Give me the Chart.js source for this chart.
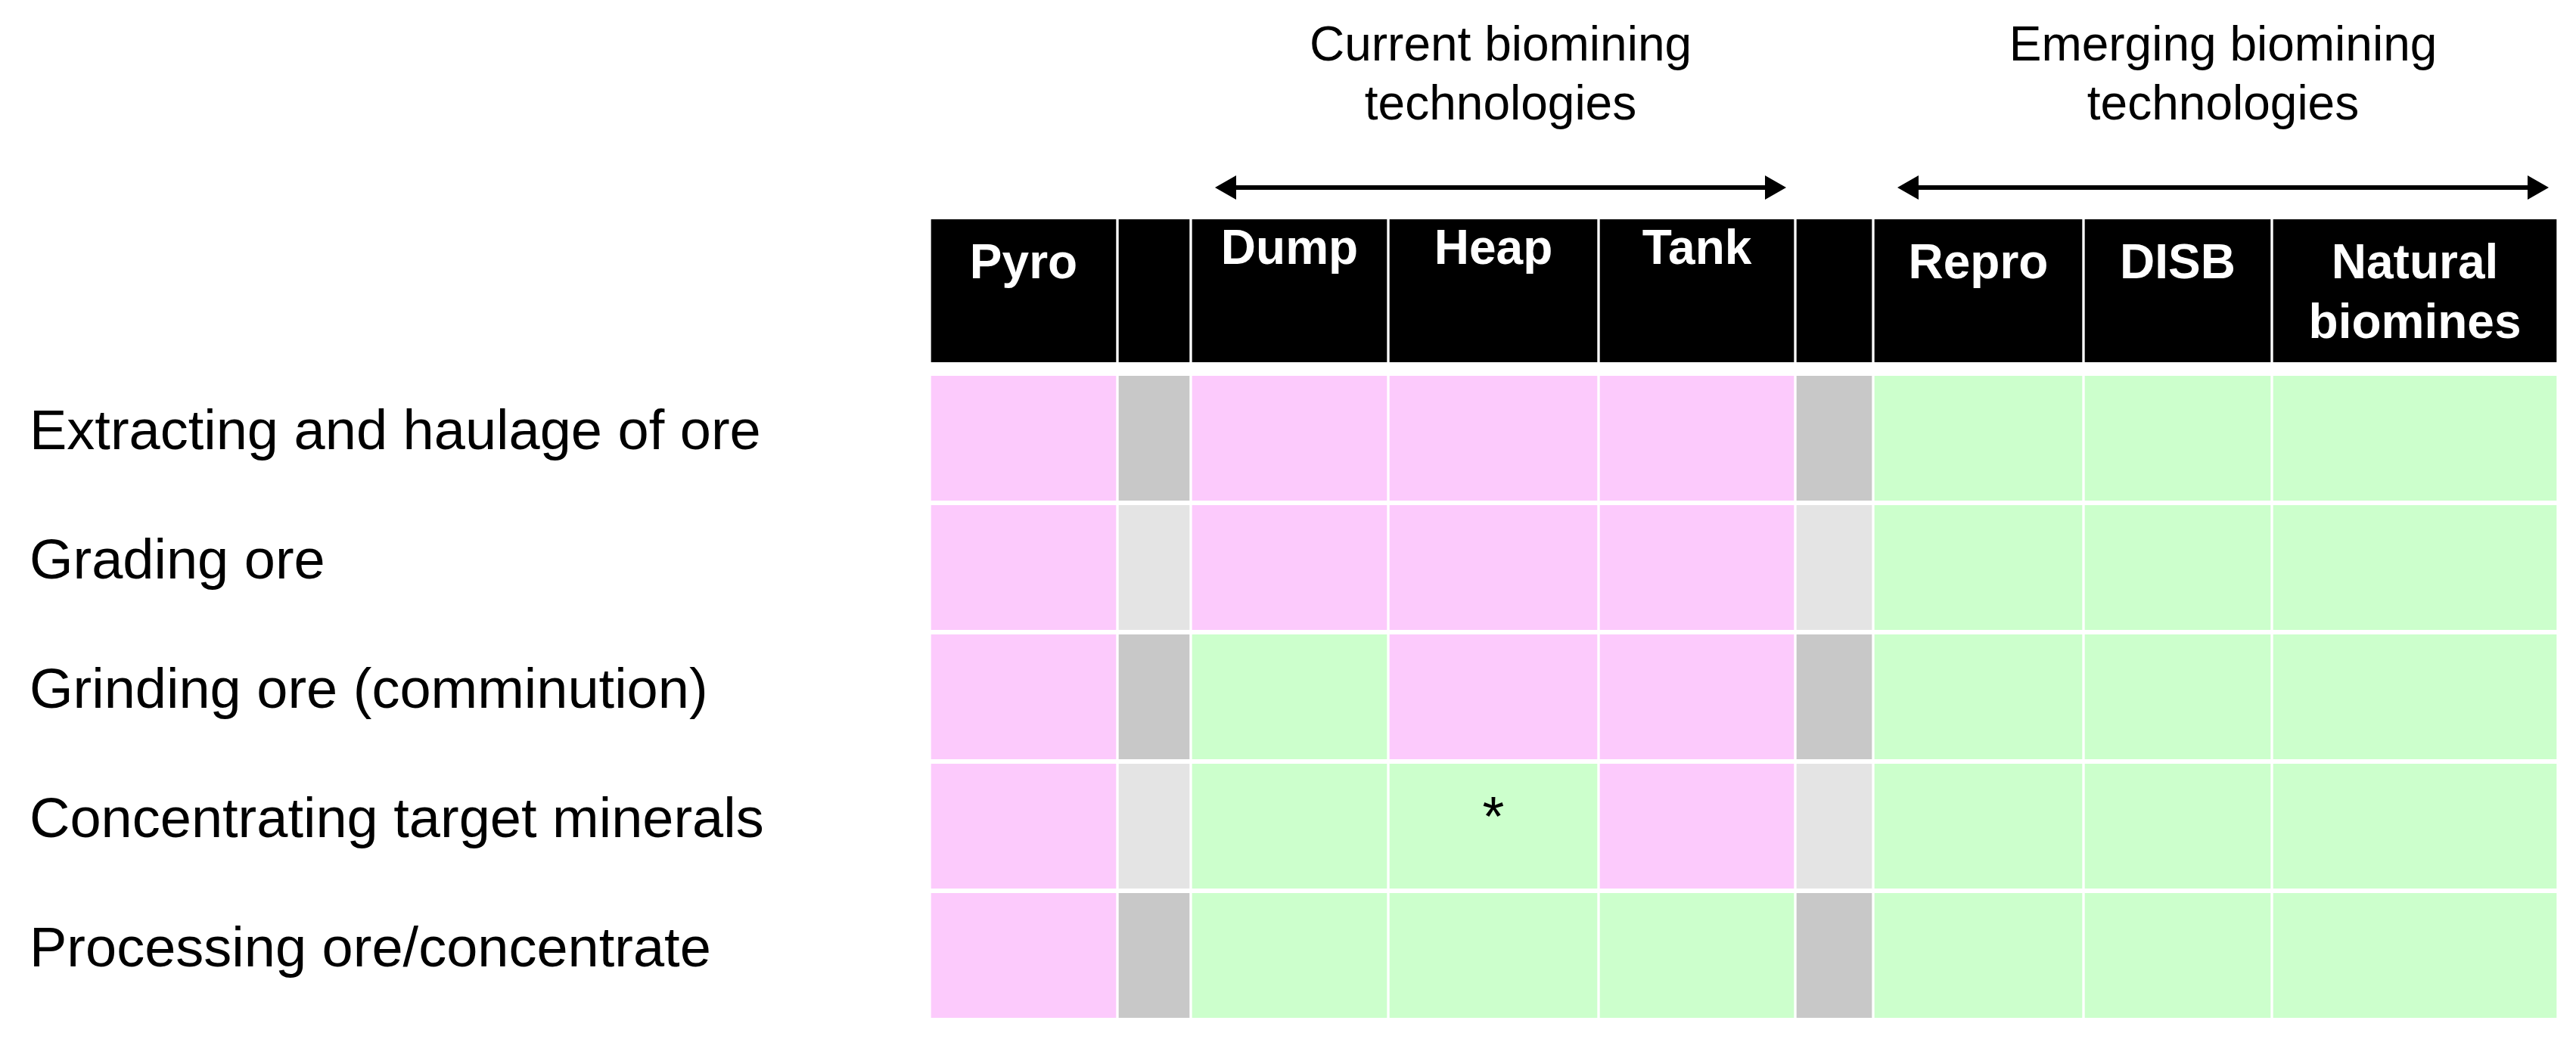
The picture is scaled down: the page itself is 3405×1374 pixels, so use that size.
<!DOCTYPE html>
<html>
<head>
<meta charset="utf-8">
<script src="https://cdn.jsdelivr.net/npm/chart.js@4"></script>
<style>
  html, body { margin: 0; padding: 0; background: #fff; }
  #wrap { width: 3405px; height: 1374px; }
</style>
</head>
<body>
<div id="wrap"><canvas id="grid"></canvas></div>
<script>
// data
const columns = ['Pyro', '', 'Dump', 'Heap', 'Tank', '', 'Repro', 'DISB', 'Natural\nbiomines'];
const processes = [
  'Extracting and haulage of ore',
  'Grading ore',
  'Grinding ore (comminution)',
  'Concentrating target minerals',
  'Processing ore/concentrate',
];
// p = conventional (pink), b = biomining (green), s = spacer
const cells = [
  ['p', 's', 'p', 'p', 'p', 's', 'b', 'b', 'b'],
  ['p', 's', 'p', 'p', 'p', 's', 'b', 'b', 'b'],
  ['p', 's', 'b', 'p', 'p', 's', 'b', 'b', 'b'],
  ['p', 's', 'b', 'b', 'p', 's', 'b', 'b', 'b'],
  ['p', 's', 'b', 'b', 'b', 's', 'b', 'b', 'b'],
];
const notes = [{ row: 3, col: 3, text: '*' }];
const groups = [
  { title: ['Current biomining', 'technologies'], from: 2, to: 4 },
  { title: ['Emerging biomining', 'technologies'], from: 6, to: 8 },
];

// layout (pixels of the scale)
const colEdges = [0, 248, 345, 606, 884, 1144, 1247, 1525, 1774, 2152];
const headerBottom = 189;
const rowTop = (i) => 207 + i * 171;
const rowH = 165;

const colors = { p: '#fccafc', b: '#ccffcc' };
const spacer = (i) => (i % 2 === 0 ? '#c8c8c8' : '#e4e4e4');

const datasets = columns.map((name, c) => {
  const pts = [{ x: (colEdges[c] + colEdges[c + 1]) / 2, y: [0, headerBottom] }];
  const bg = ['#000'];
  processes.forEach((p, r) => {
    pts.push({ x: pts[0].x, y: [rowTop(r), rowTop(r) + rowH] });
    const s = cells[r][c];
    bg.push(s === 's' ? spacer(r) : colors[s]);
  });
  return {
    label: name || 'gap',
    data: pts,
    backgroundColor: bg,
    borderColor: '#fff',
    borderWidth: { left: 2, right: 2 },
    borderSkipped: false,
    barThickness: colEdges[c + 1] - colEdges[c],
    grouped: false,
  };
});

const labels = {
  id: 'labels',
  afterDatasetsDraw(chart) {
    const { ctx, scales: { x, y } } = chart;
    ctx.save();
    ctx.fillStyle = '#000';
    ctx.textBaseline = 'middle';
    ctx.font = '74px "Liberation Sans", Arial, sans-serif';
    processes.forEach((p, r) => {
      ctx.textAlign = 'left';
      ctx.fillText(p, 39, y.getPixelForValue(rowTop(r) + rowH / 2) - 6);
    });
    ctx.textAlign = 'center';
    notes.forEach((n) => {
      const cx = x.getPixelForValue((colEdges[n.col] + colEdges[n.col + 1]) / 2);
      ctx.fillText(n.text, cx, y.getPixelForValue(rowTop(n.row) + rowH / 2) - 8);
    });

    // header labels
    ctx.fillStyle = '#fff';
    ctx.font = 'bold 64px "Liberation Sans", Arial, sans-serif';
    columns.forEach((name, c) => {
      if (!name) return;
      const cx = x.getPixelForValue((colEdges[c] + colEdges[c + 1]) / 2);
      const lines = name.split('\n');
      const base = (c >= 2 && c <= 4) ? 331 : 350;
      lines.forEach((l, i) => ctx.fillText(l, cx, base + i * 79));
    });

    // group titles and arrows
    ctx.fillStyle = '#000';
    ctx.strokeStyle = '#000';
    ctx.font = '64px "Liberation Sans", Arial, sans-serif';
    groups.forEach((g) => {
      const x0 = x.getPixelForValue(colEdges[g.from]) + 32;
      const x1 = x.getPixelForValue(colEdges[g.to + 1]) - 12;
      const cx = (x0 + x1) / 2;
      g.title.forEach((t, i) => ctx.fillText(t, cx, 62 + i * 78));
      const ay = 248;
      ctx.lineWidth = 6;
      ctx.beginPath();
      ctx.moveTo(x0 + 20, ay);
      ctx.lineTo(x1 - 20, ay);
      ctx.stroke();
      [[x0, 1], [x1, -1]].forEach(([px, d]) => {
        ctx.beginPath();
        ctx.moveTo(px, ay);
        ctx.lineTo(px + d * 28, ay - 16);
        ctx.lineTo(px + d * 28, ay + 16);
        ctx.closePath();
        ctx.fill();
      });
    });
    ctx.restore();
  },
};

new Chart(document.getElementById('grid'), {
  type: 'bar',
  data: { datasets },
  options: {
    responsive: true,
    maintainAspectRatio: false,
    animation: false,
    layout: { padding: { left: 1229, right: 24, top: 290, bottom: 24 } },
    scales: {
      x: { type: 'linear', min: 0, max: 2152, offset: false, display: false },
      y: { type: 'linear', min: 0, max: 1060, reverse: true, display: false },
    },
    plugins: { legend: { display: false }, tooltip: { enabled: false } },
  },
  plugins: [labels],
});
</script>
</body>
</html>
